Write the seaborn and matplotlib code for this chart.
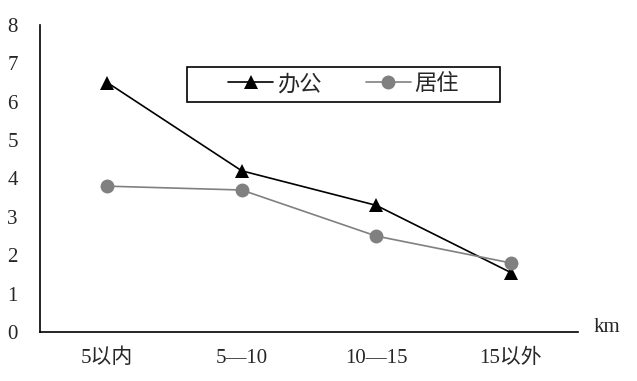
import numpy as np
import pandas as pd
import matplotlib
matplotlib.use("Agg")
import matplotlib.pyplot as plt
from matplotlib.patches import Rectangle
import seaborn as sns

categories = ["5以内", "5—10", "10—15", "15以外"]
office = [6.5, 4.2, 3.3, 1.55]
living = [3.8, 3.7, 2.5, 1.8]

sns.set_style("white")
plt.rcParams['font.family'] = ['Liberation Serif', 'Noto Sans CJK SC']
plt.rcParams['axes.unicode_minus'] = False

df = pd.DataFrame({"x": np.arange(len(categories)), "办公": office, "居住": living})

fig = plt.figure(figsize=(6.37, 3.81), dpi=100)
ax = fig.add_axes([0.0628, 0.1286, 0.8446, 0.8058])

sns.lineplot(data=df, x="x", y="办公", ax=ax, color="black", lw=1.2,
             marker="^", markersize=10, markeredgewidth=0, label="办公")
sns.lineplot(data=df, x="x", y="居住", ax=ax, color="#808080", lw=1.2,
             marker="o", markersize=10, markeredgewidth=0, label="居住")

ax.set_xlim(-0.5, 3.5)
ax.set_ylim(0, 8)
ax.set_xlabel("")
ax.set_ylabel("")
ax.set_xticks(range(len(categories)))
ax.set_xticklabels(categories, fontsize=15)
ax.set_xticks([0.5, 1.5, 2.5, 3.5], minor=True)
ax.tick_params(axis="x", which="major", length=0, pad=12)
ax.tick_params(axis="x", which="minor", direction="in", length=5, width=1, color="black")
ax.set_yticks(range(0, 9))
ax.tick_params(axis="y", direction="in", length=5, width=1, color="black", labelsize=15, pad=16)

sns.despine(ax=ax)
for s in ["left", "bottom"]:
    ax.spines[s].set_color("black")
    ax.spines[s].set_linewidth(1.2)

ax.text(1.028, 0.015, "km", transform=ax.transAxes, fontsize=15, va="center", ha="left")

# legend box is wider than the entries, so draw the frame by hand
ax.add_patch(Rectangle((0.273, 0.749), 0.582, 0.114, transform=ax.transAxes,
                       fill=False, edgecolor="black", lw=1.2, zorder=5, clip_on=False))
leg = ax.legend(loc="center", bbox_to_anchor=(0.564, 0.806), ncol=2, fontsize=16,
                frameon=False, handlelength=2.05, columnspacing=2.0,
                borderpad=0.3, handletextpad=0.15)

fig.savefig("out.png", dpi=100)
